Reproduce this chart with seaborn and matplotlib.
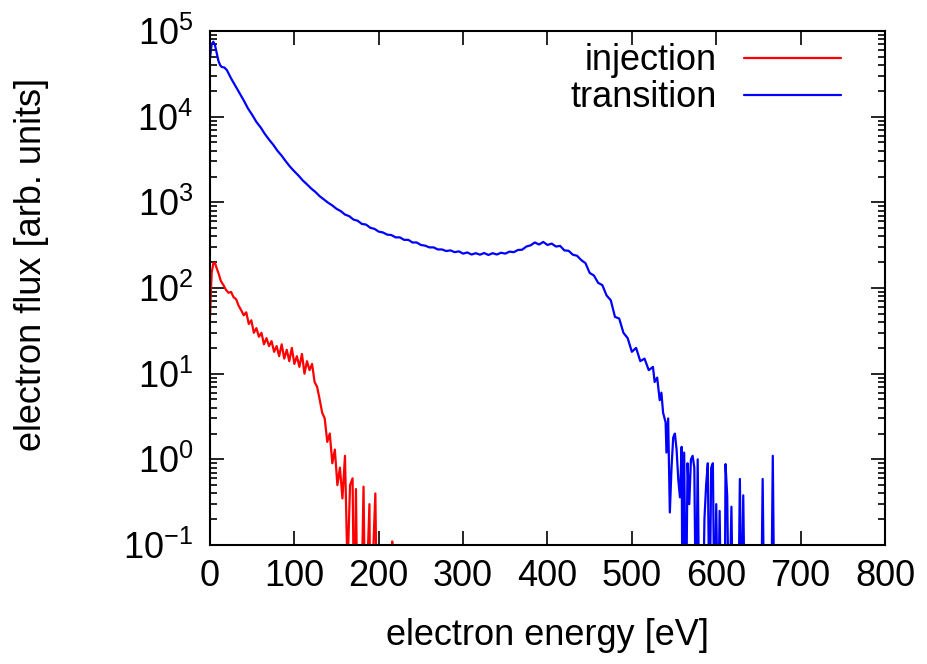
import numpy as np
import pandas as pd
import matplotlib
matplotlib.use("Agg")
import matplotlib.pyplot as plt
import seaborn as sns
from matplotlib.ticker import LogLocator, MultipleLocator

# values; 0.01 marks bins that fall below the plot floor
inj_energy = [0, 2, 4, 6, 8, 10, 13, 16, 19, 22, 25, 28, 31, 34, 37, 40, 43, 46, 49,
              52, 55, 58, 61, 64, 67, 70, 73, 76, 79, 82, 85, 88, 91, 94, 97, 100,
              103, 106, 109, 112, 115, 118, 121, 124, 127, 130, 133, 136, 139, 142,
              145, 148, 151, 154, 157, 160, 163, 166, 169, 171, 173, 175, 179, 182,
              184, 189, 190, 196, 198, 215, 216, 217]
inj_flux = [45, 150, 195, 195, 170, 150, 120, 108, 95, 88, 90, 78, 74, 62, 55, 48, 52,
            38, 42, 30, 34, 27, 30, 22, 26, 21, 24, 18, 21, 16, 22, 15, 19, 14, 20, 13,
            16, 12, 17, 10, 14, 11, 13, 8, 7, 5, 3.5, 3.0, 1.6, 2.0, 0.9, 1.3, 0.5, 0.8,
            0.35, 1.1, 0.05, 0.5, 0.6, 0.01, 0.45, 0.01, 0.01, 0.48, 0.01, 0.3, 0.01,
            0.4, 0.01, 0.01, 0.11, 0.01]

tra_energy = [0, 2, 4, 6, 8, 10, 12, 14, 17, 20, 25, 30, 35, 40, 45, 50, 55, 60, 65,
              70, 75, 80, 85, 90, 95, 100, 105, 110, 115, 120, 125, 130, 135, 140, 145,
              150, 155, 160, 165, 170, 175, 180, 185, 190, 195, 200, 205, 210, 215, 220,
              225, 230, 235, 240, 245, 250, 255, 260, 265, 270, 275, 280, 285, 290, 295,
              300, 305, 310, 315, 320, 325, 330, 335, 340, 345, 350, 355, 360, 365, 370,
              375, 380, 385, 390, 395, 400, 405, 410, 415, 420, 425, 430, 435, 440, 445,
              450, 455, 460, 465, 470, 475, 480, 485, 490, 495, 500, 505, 510, 515, 520,
              525, 527, 530, 533, 535, 537, 540, 541, 543, 545, 547, 549, 551, 553, 555,
              557, 559, 560, 562, 564, 566, 568, 570, 572, 574, 576, 578, 580, 584, 586,
              588, 590, 592, 594, 596, 598, 600, 602, 604, 606, 610, 611, 613, 615, 618,
              620, 626, 628, 630, 632, 634, 653, 655, 657, 665, 667, 669]
tra_flux = [48000, 70000, 75000, 68000, 55000, 45000, 40000, 38000, 37500, 35000,
            28000, 23000, 19000, 15500, 12500, 10500, 8700, 7500, 6300, 5400, 4700,
            4000, 3500, 3000, 2600, 2300, 2050, 1800, 1620, 1450, 1320, 1180, 1080, 990,
            920, 840, 790, 720, 690, 630, 610, 560, 550, 505, 490, 455, 445, 420, 415,
            390, 390, 365, 365, 340, 340, 318, 312, 298, 298, 282, 282, 270, 275, 262,
            268, 252, 260, 246, 255, 245, 256, 243, 255, 246, 258, 252, 266, 262, 278,
            280, 305, 315, 340, 322, 345, 318, 330, 305, 310, 275, 272, 245, 238, 212,
            195, 150, 140, 115, 108, 82, 72, 46, 44, 30, 26, 18, 20, 14, 15, 11, 12, 8,
            9, 4.9, 6, 3.5, 2.7, 1.2, 3.0, 0.24, 0.8, 1.8, 2.0, 1.3, 0.58, 0.36, 1.4,
            0.01, 1.2, 0.01, 0.9, 0.3, 1.0, 1.1, 0.8, 0.01, 1.0, 0.01, 0.01, 0.2, 0.5,
            0.9, 0.01, 0.8, 0.9, 0.01, 0.3, 0.01, 0.25, 0.01, 0.01, 0.88, 0.37, 0.01,
            0.28, 0.01, 0.01, 0.59, 0.01, 0.38, 0.01, 0.01, 0.59, 0.01, 0.01, 1.1, 0.01]

df = pd.concat([
    pd.DataFrame({"energy": inj_energy, "flux": inj_flux, "run": "injection"}),
    pd.DataFrame({"energy": tra_energy, "flux": tra_flux, "run": "transition"}),
])

sns.set_style("ticks")
plt.rcParams["font.family"] = ["Liberation Sans", "DejaVu Sans"]
plt.rcParams["mathtext.fontset"] = "custom"
plt.rcParams["mathtext.rm"] = "Liberation Sans"
plt.rcParams["font.size"] = 26
plt.rcParams["text.color"] = "black"
plt.rcParams["axes.labelcolor"] = "black"

fig = plt.figure(figsize=(9.27, 6.64), dpi=100)
ax = fig.add_axes([0.2265, 0.1792, 0.7282, 0.7741])

sns.lineplot(data=df, x="energy", y="flux", hue="run", estimator=None, sort=False,
             palette={"injection": "#ff0000", "transition": "#0000ff"},
             linewidth=1.6, ax=ax)

ax.set_yscale("log")
ax.set_xlim(0, 800)
ax.set_ylim(0.1, 1e5)
ax.xaxis.set_major_locator(MultipleLocator(100))
ax.yaxis.set_major_locator(LogLocator(base=10, numticks=10))
ax.yaxis.set_minor_locator(LogLocator(base=10, subs=np.arange(2, 10), numticks=20))
ax.tick_params(which="both", direction="in", top=True, right=True, width=1.2,
               labelsize=26, colors="black")
ax.tick_params(which="major", length=10)
ax.tick_params(which="minor", length=5)
ax.tick_params(axis="x", pad=10)
ax.tick_params(axis="y", pad=12)
for s in ax.spines.values():
    s.set_linewidth(1.5)
    s.set_color("black")

ax.set_xlabel("electron energy [eV]", fontsize=26, labelpad=17)
ax.set_ylabel("electron flux [arb. units]", fontsize=26)
ax.yaxis.set_label_coords(-0.238, 0.545)

ax.legend(loc="upper right", frameon=False, markerfirst=False, fontsize=26,
          handlelength=2.7, handletextpad=0.75, labelspacing=0.05,
          borderaxespad=0.0, borderpad=0.0, bbox_to_anchor=(0.935, 0.976))

fig.savefig("out.png", dpi=100)
